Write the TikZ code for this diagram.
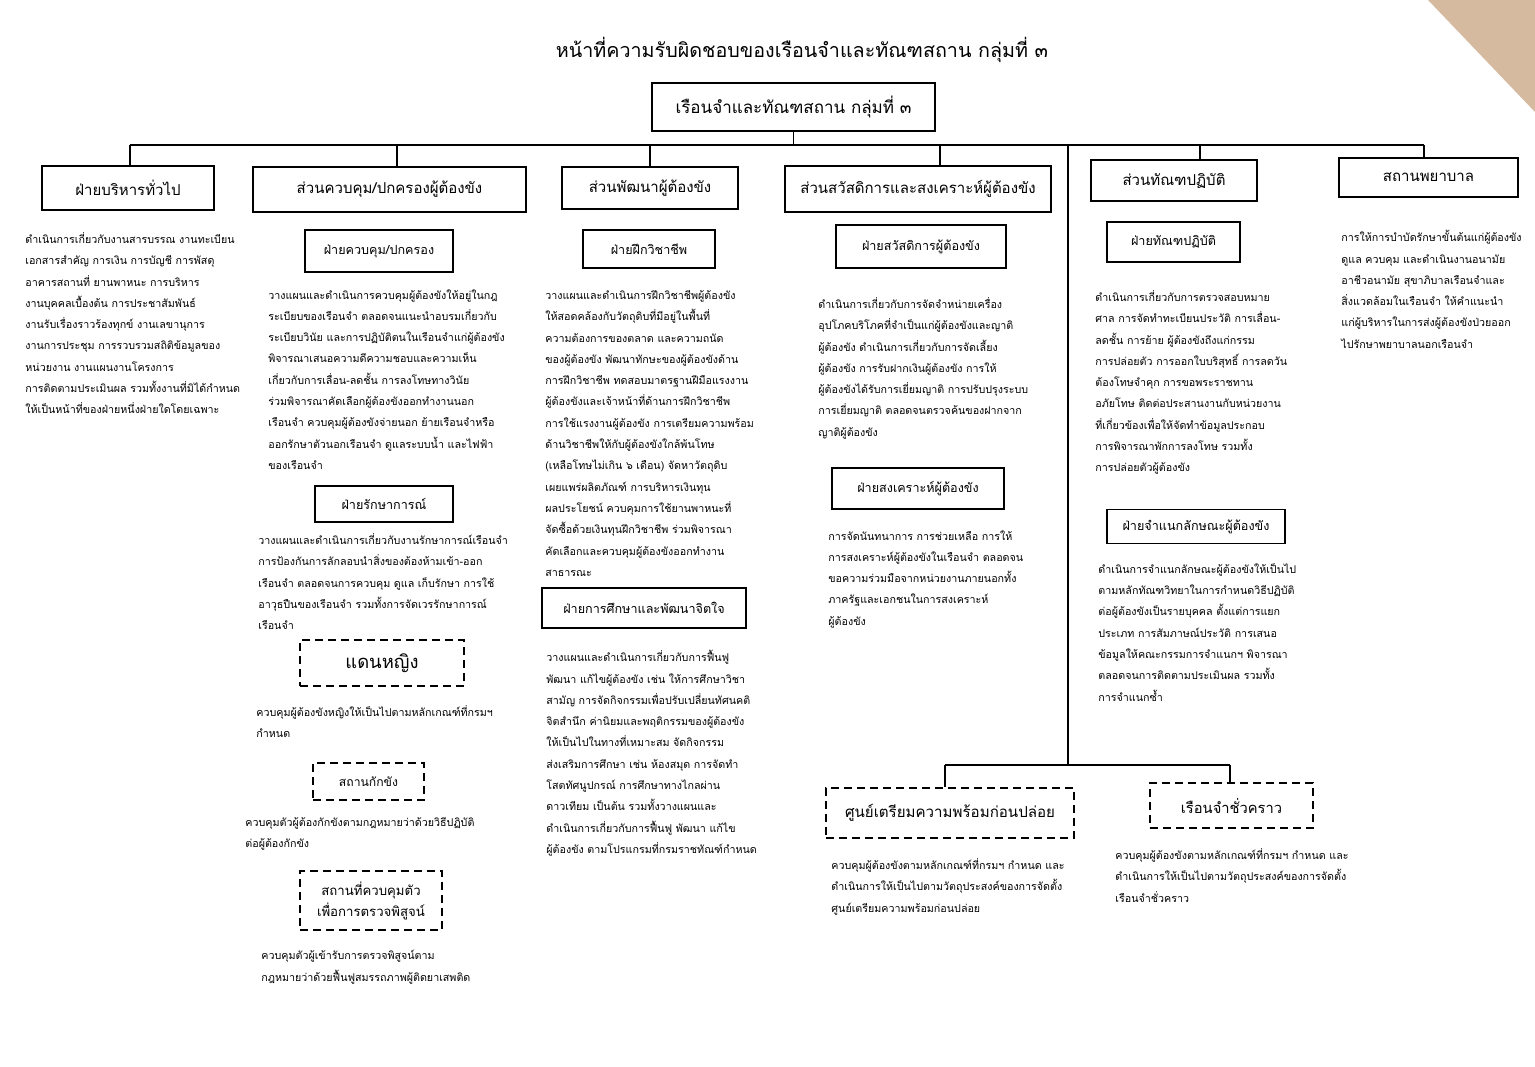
\documentclass[tikz,border=0pt]{standalone}
\usepackage{fontspec}
\setmainfont{Loma}[Script=Thai]
\begin{document}
\begin{tikzpicture}[x=0.5pt,y=-0.5pt,
  box/.style={draw, line width=0.8pt, inner sep=0pt, align=center},
  dbox/.style={box, dash pattern=on 4pt off 2.5pt},
  hA/.style={font=\fontsize{7.5}{10}\selectfont},
  hB/.style={font=\fontsize{6.3}{9}\selectfont},
  body/.style={anchor=north west, inner sep=0pt, align=left, font=\fontsize{5.35}{10.65}\selectfont},
  conn/.style={line width=0.6pt}]
\useasboundingbox (0,0) rectangle (1535,1066);
\fill[white] (0,0) rectangle (1535,1066);
\fill[color={rgb,255:red,214;green,186;blue,160}] (1428,0) -- (1535,0) -- (1535,112) -- cycle;
% title
\node[font=\fontsize{9.85}{13}\selectfont] (title) at (802,50) {หน้าที่ความรับผิดชอบของเรือนจำและทัณฑสถาน กลุ่มที่ ๓};
\node[box, font=\fontsize{8.5}{11}\selectfont, minimum width=141.5pt, minimum height=24pt] (top) at (793.5,107) {เรือนจำและทัณฑสถาน กลุ่มที่ ๓};
% level 1
\node[box, hA, minimum width=86pt, minimum height=22pt] (gen) at (128,188) {ฝ่ายบริหารทั่วไป};
\node[box, hA, minimum width=136.5pt, minimum height=22.5pt] (ctl) at (389.5,189.5) {ส่วนควบคุม/ปกครองผู้ต้องขัง};
\node[box, hA, minimum width=88pt, minimum height=21pt] (dev) at (650,188) {ส่วนพัฒนาผู้ต้องขัง};
\node[box, hA, minimum width=133pt, minimum height=23pt] (wel) at (918,189) {ส่วนสวัสดิการและสงเคราะห์ผู้ต้องขัง};
\node[box, hA, minimum width=83pt, minimum height=20.5pt] (tr) at (1174,180.5) {ส่วนทัณฑปฏิบัติ};
\node[box, hA, minimum width=89.5pt, minimum height=19.5pt] (hos) at (1428.5,177.5) {สถานพยาบาล};
% level 2
\node[box, hB, minimum width=74pt, minimum height=21pt] (ctlA) at (379,251) {ฝ่ายควบคุม/ปกครอง};
\node[box, hB, minimum width=69pt, minimum height=18pt] (ctlB) at (384,504) {ฝ่ายรักษาการณ์};
\node[box, hB, minimum width=66pt, minimum height=19pt] (devA) at (649,249) {ฝ่ายฝึกวิชาชีพ};
\node[box, hB, minimum width=102pt, minimum height=20pt] (devB) at (644,608) {ฝ่ายการศึกษาและพัฒนาจิตใจ};
\node[box, hB, minimum width=85pt, minimum height=21.5pt] (welA) at (921,246.5) {ฝ่ายสวัสดิการผู้ต้องขัง};
\node[box, hB, minimum width=86pt, minimum height=20.5pt] (welB) at (918,488.5) {ฝ่ายสงเคราะห์ผู้ต้องขัง};
\node[box, hB, minimum width=66.5pt, minimum height=20pt] (trA) at (1173.5,242) {ฝ่ายทัณฑปฏิบัติ};
\node[box, hB, minimum width=89pt, minimum height=17pt] (trB) at (1196,526.5) {ฝ่ายจำแนกลักษณะผู้ต้องขัง};
% dashed units
\node[dbox, font=\fontsize{9.2}{11}\selectfont, minimum width=82pt, minimum height=23pt] (wom) at (382,663) {แดนหญิง};
\node[dbox, font=\fontsize{6.1}{9}\selectfont, minimum width=55.5pt, minimum height=18.5pt] (det) at (368.5,781.5) {สถานกักขัง};
\node[dbox, font=\fontsize{6.6}{10.5}\selectfont, minimum width=71pt, minimum height=29.5pt] (pc) at (371,900.5) {สถานที่ควบคุมตัว\\เพื่อการตรวจพิสูจน์};
\node[dbox, font=\fontsize{7.55}{10}\selectfont, minimum width=124pt, minimum height=25pt] (prep) at (950,813) {ศูนย์เตรียมความพร้อมก่อนปล่อย};
\node[dbox, font=\fontsize{7.35}{10}\selectfont, minimum width=81.5pt, minimum height=22.5pt] (temp) at (1231.5,805.5) {เรือนจำชั่วคราว};
% connectors
\coordinate (busL) at (130,145);
\coordinate (busR) at (1424,145);
\coordinate (b2) at (397,145);
\coordinate (b3) at (650,145);
\coordinate (b4) at (940,145);
\coordinate (b5) at (1200,145);
\coordinate (b7) at (1068,145);
\coordinate (low) at (1068,765);
\coordinate (lowL) at (945,765);
\coordinate (lowR) at (1230,765);
\draw[conn] (top.south) -- (top.south |- busL);
\draw[conn] (busL) -- (busR);
\draw[conn] (busL) -- (busL |- gen.north);
\draw[conn] (b2) -- (b2 |- ctl.north);
\draw[conn] (b3) -- (b3 |- dev.north);
\draw[conn] (b4) -- (b4 |- wel.north);
\draw[conn] (b5) -- (b5 |- tr.north);
\draw[conn] (busR) -- (busR |- hos.north);
\draw[line width=0.8pt] (b7) -- (low);
\draw[conn] (lowL) -- (lowR);
\draw[conn] (lowL) -- (lowL |- prep.north);
\draw[conn] (lowR) -- (lowR |- temp.north);
% texts
\node[body] (tgen) at (25,232) {ดำเนินการเกี่ยวกับงานสารบรรณ งานทะเบียน\\
เอกสารสำคัญ การเงิน การบัญชี การพัสดุ\\
อาคารสถานที่ ยานพาหนะ การบริหาร\\
งานบุคคลเบื้องต้น การประชาสัมพันธ์\\
งานรับเรื่องราวร้องทุกข์ งานเลขานุการ\\
งานการประชุม การรวบรวมสถิติข้อมูลของ\\
หน่วยงาน งานแผนงานโครงการ\\
การติดตามประเมินผล รวมทั้งงานที่มิได้กำหนด\\
ให้เป็นหน้าที่ของฝ่ายหนึ่งฝ่ายใดโดยเฉพาะ};
\node[body] (tctlA) at (268,289) {วางแผนและดำเนินการควบคุมผู้ต้องขังให้อยู่ในกฎ\\
ระเบียบของเรือนจำ ตลอดจนแนะนำอบรมเกี่ยวกับ\\
ระเบียบวินัย และการปฏิบัติตนในเรือนจำแก่ผู้ต้องขัง\\
พิจารณาเสนอความดีความชอบและความเห็น\\
เกี่ยวกับการเลื่อน-ลดชั้น การลงโทษทางวินัย\\
ร่วมพิจารณาคัดเลือกผู้ต้องขังออกทำงานนอก\\
เรือนจำ ควบคุมผู้ต้องขังจ่ายนอก ย้ายเรือนจำหรือ\\
ออกรักษาตัวนอกเรือนจำ ดูแลระบบน้ำ และไฟฟ้า\\
ของเรือนจำ};
\node[body] (tctlB) at (258,533) {วางแผนและดำเนินการเกี่ยวกับงานรักษาการณ์เรือนจำ\\
การป้องกันการลักลอบนำสิ่งของต้องห้ามเข้า-ออก\\
เรือนจำ ตลอดจนการควบคุม ดูแล เก็บรักษา การใช้\\
อาวุธปืนของเรือนจำ รวมทั้งการจัดเวรรักษาการณ์\\
เรือนจำ};
\node[body] (twom) at (256,705) {ควบคุมผู้ต้องขังหญิงให้เป็นไปตามหลักเกณฑ์ที่กรมฯ\\
กำหนด};
\node[body] (tdet) at (245,817) {ควบคุมตัวผู้ต้องกักขังตามกฎหมายว่าด้วยวิธีปฏิบัติ\\
ต่อผู้ต้องกักขัง};
\node[body] (tpc) at (261,950) {ควบคุมตัวผู้เข้ารับการตรวจพิสูจน์ตาม\\
กฎหมายว่าด้วยฟื้นฟูสมรรถภาพผู้ติดยาเสพติด};
\node[body] (tdevA) at (545,290) {วางแผนและดำเนินการฝึกวิชาชีพผู้ต้องขัง\\
ให้สอดคล้องกับวัตถุดิบที่มีอยู่ในพื้นที่\\
ความต้องการของตลาด และความถนัด\\
ของผู้ต้องขัง พัฒนาทักษะของผู้ต้องขังด้าน\\
การฝึกวิชาชีพ ทดสอบมาตรฐานฝีมือแรงงาน\\
ผู้ต้องขังและเจ้าหน้าที่ด้านการฝึกวิชาชีพ\\
การใช้แรงงานผู้ต้องขัง การเตรียมความพร้อม\\
ด้านวิชาชีพให้กับผู้ต้องขังใกล้พ้นโทษ\\
(เหลือโทษไม่เกิน ๖ เดือน) จัดหาวัตถุดิบ\\
เผยแพร่ผลิตภัณฑ์ การบริหารเงินทุน\\
ผลประโยชน์ ควบคุมการใช้ยานพาหนะที่\\
จัดซื้อด้วยเงินทุนฝึกวิชาชีพ ร่วมพิจารณา\\
คัดเลือกและควบคุมผู้ต้องขังออกทำงาน\\
สาธารณะ};
\node[body] (tdevB) at (546,650) {วางแผนและดำเนินการเกี่ยวกับการฟื้นฟู\\
พัฒนา แก้ไขผู้ต้องขัง เช่น ให้การศึกษาวิชา\\
สามัญ การจัดกิจกรรมเพื่อปรับเปลี่ยนทัศนคติ\\
จิตสำนึก ค่านิยมและพฤติกรรมของผู้ต้องขัง\\
ให้เป็นไปในทางที่เหมาะสม จัดกิจกรรม\\
ส่งเสริมการศึกษา เช่น ห้องสมุด การจัดทำ\\
โสตทัศนูปกรณ์ การศึกษาทางไกลผ่าน\\
ดาวเทียม เป็นต้น รวมทั้งวางแผนและ\\
ดำเนินการเกี่ยวกับการฟื้นฟู พัฒนา แก้ไข\\
ผู้ต้องขัง ตามโปรแกรมที่กรมราชทัณฑ์กำหนด};
\node[body] (twelA) at (818,297) {ดำเนินการเกี่ยวกับการจัดจำหน่ายเครื่อง\\
อุปโภคบริโภคที่จำเป็นแก่ผู้ต้องขังและญาติ\\
ผู้ต้องขัง ดำเนินการเกี่ยวกับการจัดเลี้ยง\\
ผู้ต้องขัง การรับฝากเงินผู้ต้องขัง การให้\\
ผู้ต้องขังได้รับการเยี่ยมญาติ การปรับปรุงระบบ\\
การเยี่ยมญาติ ตลอดจนตรวจค้นของฝากจาก\\
ญาติผู้ต้องขัง};
\node[body] (twelB) at (828,530) {การจัดนันทนาการ การช่วยเหลือ การให้\\
การสงเคราะห์ผู้ต้องขังในเรือนจำ ตลอดจน\\
ขอความร่วมมือจากหน่วยงานภายนอกทั้ง\\
ภาครัฐและเอกชนในการสงเคราะห์\\
ผู้ต้องขัง};
\node[body] (ttrA) at (1095,290) {ดำเนินการเกี่ยวกับการตรวจสอบหมาย\\
ศาล การจัดทำทะเบียนประวัติ การเลื่อน-\\
ลดชั้น การย้าย ผู้ต้องขังถึงแก่กรรม\\
การปล่อยตัว การออกใบบริสุทธิ์ การลดวัน\\
ต้องโทษจำคุก การขอพระราชทาน\\
อภัยโทษ ติดต่อประสานงานกับหน่วยงาน\\
ที่เกี่ยวข้องเพื่อให้จัดทำข้อมูลประกอบ\\
การพิจารณาพักการลงโทษ รวมทั้ง\\
การปล่อยตัวผู้ต้องขัง};
\node[body] (ttrB) at (1098,563) {ดำเนินการจำแนกลักษณะผู้ต้องขังให้เป็นไป\\
ตามหลักทัณฑวิทยาในการกำหนดวิธีปฏิบัติ\\
ต่อผู้ต้องขังเป็นรายบุคคล ตั้งแต่การแยก\\
ประเภท การสัมภาษณ์ประวัติ การเสนอ\\
ข้อมูลให้คณะกรรมการจำแนกฯ พิจารณา\\
ตลอดจนการติดตามประเมินผล รวมทั้ง\\
การจำแนกซ้ำ};
\node[body] (thos) at (1341,230) {การให้การบำบัดรักษาขั้นต้นแก่ผู้ต้องขัง\\
ดูแล ควบคุม และดำเนินงานอนามัย\\
อาชีวอนามัย สุขาภิบาลเรือนจำและ\\
สิ่งแวดล้อมในเรือนจำ ให้คำแนะนำ\\
แก่ผู้บริหารในการส่งผู้ต้องขังป่วยออก\\
ไปรักษาพยาบาลนอกเรือนจำ};
\node[body] (tprep) at (831,858) {ควบคุมผู้ต้องขังตามหลักเกณฑ์ที่กรมฯ กำหนด และ\\
ดำเนินการให้เป็นไปตามวัตถุประสงค์ของการจัดตั้ง\\
ศูนย์เตรียมความพร้อมก่อนปล่อย};
\node[body] (ttemp) at (1115,848) {ควบคุมผู้ต้องขังตามหลักเกณฑ์ที่กรมฯ กำหนด และ\\
ดำเนินการให้เป็นไปตามวัตถุประสงค์ของการจัดตั้ง\\
เรือนจำชั่วคราว};
\end{tikzpicture}
\end{document}
